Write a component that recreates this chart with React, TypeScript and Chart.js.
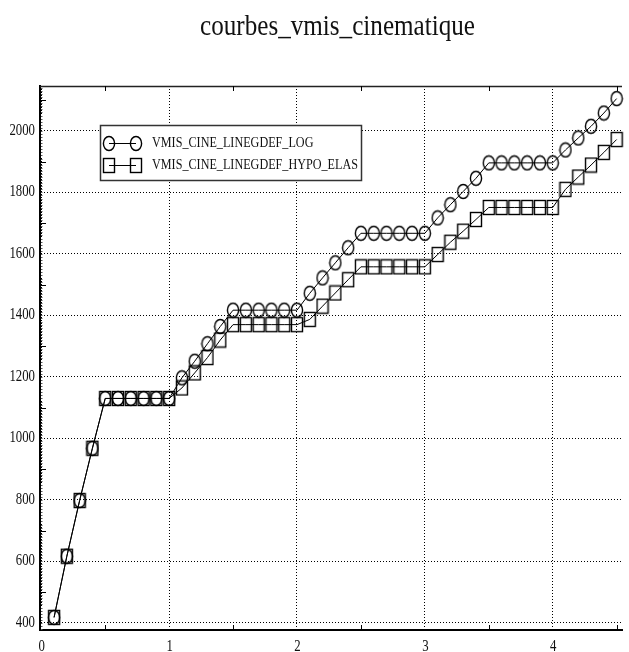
import React, { useEffect, useRef } from 'react';
import { Chart, registerables } from 'chart.js';

Chart.register(...registerables);

const TITLE = 'courbes_vmis_cinematique';
const SERIES_NAMES = ['VMIS_CINE_LINEGDEF_LOG', 'VMIS_CINE_LINEGDEF_HYPO_ELAS'];

const INST = [
  0.1, 0.2, 0.3, 0.4, 0.5, 0.6, 0.7, 0.8, 0.9, 1.0,
  1.1, 1.2, 1.3, 1.4, 1.5, 1.6, 1.7, 1.8, 1.9, 2.0,
  2.1, 2.2, 2.3, 2.4, 2.5, 2.6, 2.7, 2.8, 2.9, 3.0,
  3.1, 3.2, 3.3, 3.4, 3.5, 3.6, 3.7, 3.8, 3.9, 4.0,
  4.1, 4.2, 4.3, 4.4, 4.5,
];

const VMIS_LOG = [
  418, 617, 798, 968, 1130, 1130, 1130, 1130, 1130, 1130,
  1197, 1251, 1308, 1364, 1417, 1417, 1417, 1417, 1417, 1417,
  1472, 1522, 1571, 1620, 1667, 1667, 1667, 1667, 1667, 1667,
  1717, 1760, 1803, 1846, 1896, 1896, 1896, 1896, 1896, 1896,
  1938, 1977, 2015, 2058, 2105,
];

const VMIS_HYPO = [
  418, 617, 798, 968, 1130, 1130, 1130, 1130, 1130, 1130,
  1164, 1213, 1263, 1320, 1370, 1370, 1370, 1370, 1370, 1370,
  1387, 1430, 1473, 1516, 1558, 1558, 1558, 1558, 1558, 1558,
  1598, 1638, 1674, 1712, 1751, 1751, 1751, 1751, 1751, 1751,
  1810, 1850, 1889, 1930, 1972,
];

const X_TICKS = [0, 1, 2, 3, 4];
const Y_TICKS = [400, 600, 800, 1000, 1200, 1400, 1600, 1800, 2000];
const X_MINOR = [0.5, 1.5, 2.5, 3.5, 4.5];
const Y_MEDIUM = [500, 700, 900, 1100, 1300, 1500, 1700, 1900, 2100];

const FONT = '"Liberation Serif", "Times New Roman", serif';

function makeMarker(kind: 'circle' | 'square'): HTMLCanvasElement {
  const c = document.createElement('canvas');
  c.width = 14;
  c.height = 17;
  const ctx = c.getContext('2d')!;
  ctx.strokeStyle = '#000';
  ctx.lineWidth = 1.4;
  if (kind === 'circle') {
    ctx.beginPath();
    ctx.ellipse(7, 8.5, 5.6, 7, 0, 0, Math.PI * 2);
    ctx.stroke();
  } else {
    ctx.strokeRect(1.5, 1.5, 11, 14);
  }
  return c;
}

function drawText(
  ctx: CanvasRenderingContext2D,
  text: string,
  x: number,
  y: number,
  size: number,
  align: CanvasTextAlign,
  baseline: CanvasTextBaseline,
  sx: number
) {
  ctx.save();
  ctx.font = `${size}px ${FONT}`;
  ctx.textAlign = align;
  ctx.textBaseline = baseline;
  ctx.fillStyle = '#111';
  ctx.translate(x, y);
  ctx.scale(sx, 1);
  ctx.fillText(text, 0, 0);
  ctx.restore();
}

export default function App() {
  const ref = useRef<HTMLCanvasElement | null>(null);

  useEffect(() => {
    if (!ref.current) return;
    const circle = makeMarker('circle');
    const square = makeMarker('square');
    const markers = [circle, square];

    const decor = {
      id: 'decor',
      afterDraw(chart: any) {
        const { ctx, chartArea: a, scales } = chart;
        const x = scales.x;
        const y = scales.y;
        ctx.save();

        // top frame line
        ctx.strokeStyle = '#222';
        ctx.lineWidth = 1.5;
        ctx.beginPath();
        ctx.moveTo(a.left, a.top + 0.5);
        ctx.lineTo(a.right, a.top + 0.5);
        ctx.stroke();

        // fine y ticks
        ctx.strokeStyle = '#555';
        ctx.lineWidth = 1;
        for (let v = 380; v <= 2140; v += 10) {
          const py = Math.round(y.getPixelForValue(v)) + 0.5;
          ctx.beginPath();
          ctx.moveTo(a.left + 1, py);
          ctx.lineTo(a.left + 2.5, py);
          ctx.stroke();
        }
        // medium y ticks
        ctx.strokeStyle = '#000';
        for (const v of Y_MEDIUM) {
          const py = Math.round(y.getPixelForValue(v)) + 0.5;
          ctx.beginPath();
          ctx.moveTo(a.left, py);
          ctx.lineTo(a.left + 6, py);
          ctx.stroke();
        }
        // minor x ticks (top and bottom)
        for (const v of X_MINOR) {
          const px = Math.round(x.getPixelForValue(v)) + 0.5;
          ctx.beginPath();
          ctx.moveTo(px, a.bottom);
          ctx.lineTo(px, a.bottom - 5);
          ctx.moveTo(px, a.top);
          ctx.lineTo(px, a.top + 5);
          ctx.stroke();
        }

        // tick labels
        for (const v of Y_TICKS) {
          drawText(ctx, String(v), 35, y.getPixelForValue(v) - 0.5, 16, 'right', 'middle', 0.8);
        }
        for (const v of X_TICKS) {
          drawText(ctx, String(v), x.getPixelForValue(v) + 0.5, 646.5, 16, 'center', 'middle', 0.8);
        }

        // title
        ctx.font = `29px ${FONT}`;
        const tw = ctx.measureText(TITLE).width;
        drawText(ctx, TITLE, 337.5, 35, 29, 'center', 'alphabetic', 275 / tw);

        // legend
        const bx = 100.5, by = 125.5, bw = 261, bh = 55;
        ctx.fillStyle = '#fff';
        ctx.fillRect(bx, by, bw, bh);
        ctx.strokeStyle = '#333';
        ctx.lineWidth = 1.5;
        ctx.strokeRect(bx, by, bw, bh);
        ctx.font = `15.5px ${FONT}`;
        const lw = ctx.measureText(SERIES_NAMES[1]).width;
        const lsx = 206 / lw;
        const rows = [143, 165];
        SERIES_NAMES.forEach((name, i) => {
          const ry = rows[i];
          ctx.strokeStyle = '#000';
          ctx.lineWidth = 1;
          ctx.beginPath();
          ctx.moveTo(109, ry + 0.5);
          ctx.lineTo(136, ry + 0.5);
          ctx.stroke();
          const m = markers[i];
          ctx.drawImage(m, 109 - m.width / 2, ry + 0.5 - m.height / 2);
          ctx.drawImage(m, 136 - m.width / 2, ry + 0.5 - m.height / 2);
          drawText(ctx, name, 152, ry, 15.5, 'left', 'middle', lsx);
        });

        ctx.restore();
      },
    };

    const chart = new Chart(ref.current, {
      type: 'line',
      data: {
        datasets: [
          {
            label: SERIES_NAMES[0],
            data: INST.map((t, i) => ({ x: t, y: VMIS_LOG[i] })),
            borderColor: '#000',
            borderWidth: 1,
            pointStyle: circle as any,
            pointRadius: 6,
            tension: 0,
            fill: false,
            clip: false as any,
          },
          {
            label: SERIES_NAMES[1],
            data: INST.map((t, i) => ({ x: t, y: VMIS_HYPO[i] })),
            borderColor: '#000',
            borderWidth: 1,
            pointStyle: square as any,
            pointRadius: 6,
            tension: 0,
            fill: false,
            clip: false as any,
          },
        ],
      },
      options: {
        responsive: false,
        animation: false,
        layout: { padding: { top: 86, left: 40, right: 0, bottom: 22 } },
        plugins: {
          legend: { display: false },
          tooltip: { enabled: false },
          title: { display: false },
        },
        scales: {
          x: {
            type: 'linear',
            min: -0.01,
            max: 4.542,
            afterBuildTicks: (s: any) => {
              s.ticks = X_TICKS.map((v) => ({ value: v }));
            },
            afterFit: (s: any) => {
              s.height = 0;
            },
            ticks: { display: false },
            grid: {
              color: '#000',
              lineWidth: 1,
              drawTicks: false,
            },
            border: { display: true, color: '#000', width: 2, dash: [1, 2] },
          } as any,
          y: {
            type: 'linear',
            min: 377,
            max: 2146,
            afterBuildTicks: (s: any) => {
              s.ticks = Y_TICKS.map((v) => ({ value: v }));
            },
            afterFit: (s: any) => {
              s.width = 0;
            },
            ticks: { display: false },
            grid: {
              color: '#000',
              lineWidth: 1,
              drawTicks: false,
            },
            border: { display: true, color: '#000', width: 2, dash: [1, 2] },
          } as any,
        },
      },
      plugins: [decor],
    });

    return () => chart.destroy();
  }, []);

  return (
    <div style={{ position: 'absolute', left: 0, top: 0, width: 629, height: 652 }}>
      <canvas ref={ref} width={629} height={652} style={{ display: 'block' }} />
    </div>
  );
}
